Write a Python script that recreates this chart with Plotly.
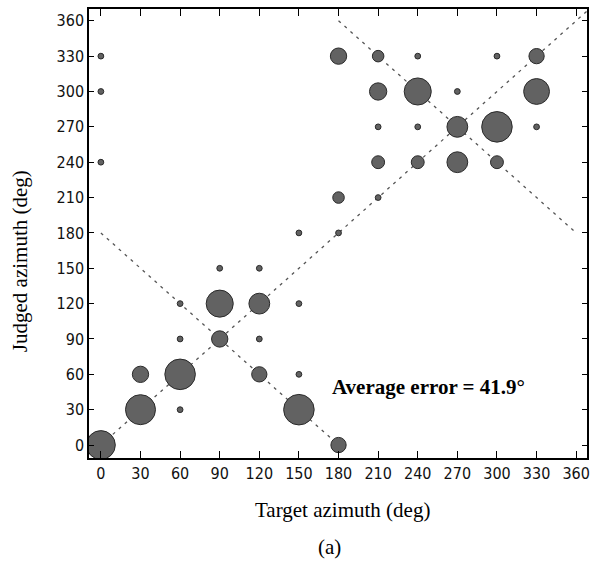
import plotly.graph_objects as go

# ---- data ----
target_az = [0, 0, 0, 0,
             30, 30,
             60, 60, 60, 60,
             90, 90, 90,
             120, 120, 120, 120,
             150, 150, 150, 150,
             180, 180, 180, 180,
             210, 210, 210, 210, 210,
             240, 240, 240, 240,
             270, 270, 270,
             300, 300, 300,
             330, 330, 330]
judged_az = [0, 240, 300, 330,
             30, 60,
             30, 60, 90, 120,
             90, 120, 150,
             60, 90, 120, 150,
             30, 60, 120, 180,
             0, 180, 210, 330,
             210, 240, 270, 300, 330,
             240, 270, 300, 330,
             240, 270, 300,
             240, 270, 330,
             270, 300, 330]
responses = [25, 1, 1, 1,
             27, 8,
             1, 28, 1, 1,
             8, 22, 1,
             7, 1, 13, 1,
             28, 1, 1, 1,
             7, 1, 4, 8,
             1, 5, 1, 9, 4,
             5, 1, 22, 1,
             13, 13, 1,
             5, 28, 1,
             1, 20, 7]

diag_x = [0, 368]
diag_y = [0, 368]
anti1_x = [0, 180]
anti1_y = [180, 0]
anti2_x = [180, 360]
anti2_y = [360, 180]

tick_vals = [0, 30, 60, 90, 120, 150, 180, 210, 240, 270, 300, 330, 360]
tick_text = [str(v) for v in tick_vals]
avg_error_text = "Average error = 41.9°"

# ---- figure ----
fig = go.Figure()
line_style = dict(color="#555555", width=1.3, dash="3px,5px")
for xs, ys in [(diag_x, diag_y), (anti1_x, anti1_y), (anti2_x, anti2_y)]:
    fig.add_trace(go.Scatter(x=xs, y=ys, mode="lines", line=line_style,
                             hoverinfo="skip", showlegend=False))

fig.add_trace(go.Scatter(
    x=target_az, y=judged_az, mode="markers",
    marker=dict(size=responses, sizemode="area", sizeref=0.06, opacity=1,
                color="#626262", line=dict(color="#2a2a2a", width=1)),
    showlegend=False))

tick_font = dict(family="DejaVu Sans Condensed, Liberation Sans Narrow, Arial Narrow, sans-serif",
                 size=16, color="#111111")
serif = "Liberation Serif, Times New Roman, serif"

fig.update_xaxes(range=[-9, 368.2], tickvals=tick_vals, ticktext=tick_text,
                 ticks="inside", ticklen=7, tickwidth=1.3, tickcolor="black",
                 showline=True, linecolor="black", linewidth=1.5, mirror="ticks",
                 showgrid=False, zeroline=False, tickfont=tick_font)
fig.update_yaxes(range=[-11, 370], tickvals=tick_vals, ticktext=tick_text,
                 ticks="inside", ticklen=5, tickwidth=1.3, tickcolor="black",
                 showline=True, linecolor="black", linewidth=1.5, mirror="ticks",
                 showgrid=False, zeroline=False, tickfont=tick_font)

fig.add_annotation(x=248.5, y=49, xref="x", yref="y", text="<b>" + avg_error_text + "</b>",
                   showarrow=False, xanchor="center", yanchor="middle",
                   font=dict(family=serif, size=21, color="black"))
fig.add_annotation(x=0.509, y=-0.116, xref="paper", yref="paper", text="Target azimuth (deg)",
                   showarrow=False, xanchor="center", yanchor="middle",
                   font=dict(family=serif, size=21, color="black"))
fig.add_annotation(x=0.483, y=-0.198, xref="paper", yref="paper", text="(a)",
                   showarrow=False, xanchor="center", yanchor="middle",
                   font=dict(family=serif, size=21, color="black"))
fig.add_annotation(x=-0.138, y=0.439, xref="paper", yref="paper", text="Judged azimuth (deg)",
                   showarrow=False, xanchor="center", yanchor="middle", textangle=-90,
                   font=dict(family=serif, size=21, color="black"))

fig.update_layout(width=593, height=577,
                  margin=dict(l=89, r=3, t=9, b=119, pad=0),
                  plot_bgcolor="white", paper_bgcolor="white")

fig.write_html("out.html")
